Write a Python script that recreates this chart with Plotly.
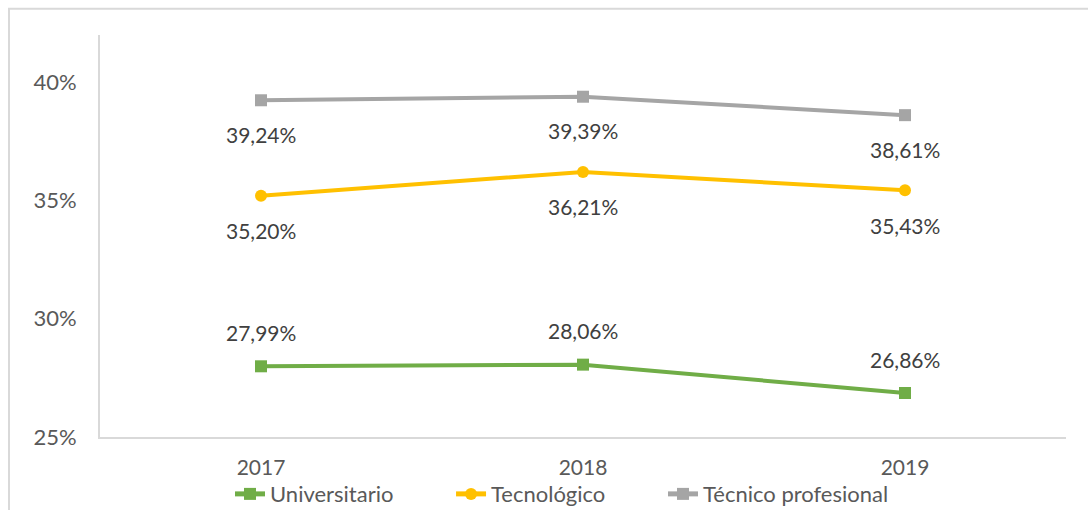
import plotly.graph_objects as go

years = ["2017", "2018", "2019"]
universitario = [27.99, 28.06, 26.86]
tecnologico = [35.20, 36.21, 35.43]
tecnico = [39.24, 39.39, 38.61]
y_ticks = [25, 30, 35, 40]

series = [
    ("Universitario", universitario, "#70AD47", "square", 34, "legend", 0.1346),
    ("Tecnológico", tecnologico, "#FFC000", "circle", -35, "legend2", 0.3634),
    ("Técnico profesional", tecnico, "#A5A5A5", "square", -34, "legend3", 0.5828),
]

FONT = "Lato, 'Open Sans', sans-serif"

fig = go.Figure()
annotations = []
legends = {}
for name, vals, color, sym, shift, leg, lx in series:
    fig.add_trace(go.Scatter(
        x=years, y=vals, name=name, mode="lines+markers",
        line=dict(color=color, width=4),
        marker=dict(symbol=sym, size=12, color=color),
        hoverinfo="skip", legend=leg,
    ))
    legends[leg] = dict(orientation="h", x=lx, xanchor="left", y=-0.142, yanchor="middle",
                        font=dict(family=FONT, size=22, color="#595959"),
                        bgcolor="rgba(0,0,0,0)", itemsizing="constant")
    for i, yv in enumerate(vals):
        annotations.append(dict(
            x=i, y=yv, xref="x", yref="y",
            text=f"{yv:.2f}%".replace(".", ","),
            showarrow=False, yshift=shift,
            font=dict(family=FONT, size=21, color="#404040"),
        ))

fig.update_layout(
    width=1088, height=510,
    margin=dict(l=100, r=22, t=35, b=73, autoexpand=False),
    paper_bgcolor="white", plot_bgcolor="white",
    font=dict(family=FONT, size=20, color="#595959"),
    showlegend=True,
    annotations=annotations,
    shapes=[dict(type="rect", xref="paper", yref="paper",
                 x0=-0.0942, x1=1.2, y0=-0.5, y1=1.065,
                 line=dict(color="#D9D9D9", width=2), layer="below")],
    **legends,
)
fig.update_xaxes(
    type="category", range=[-0.5, 2.5],
    showgrid=False, showline=True, linecolor="#D9D9D9", linewidth=2,
    ticks="", ticklabelstandoff=11, zeroline=False,
    tickfont=dict(family=FONT, size=21, color="#595959"),
)
fig.update_yaxes(
    range=[25, 42], tickvals=y_ticks, ticktext=[f"{v}%" for v in y_ticks],
    showgrid=False, showline=True, linecolor="#D9D9D9", linewidth=2,
    ticks="", ticklabelstandoff=17, zeroline=False,
    tickfont=dict(family=FONT, size=22, color="#595959"),
)

fig.write_html("out.html")
